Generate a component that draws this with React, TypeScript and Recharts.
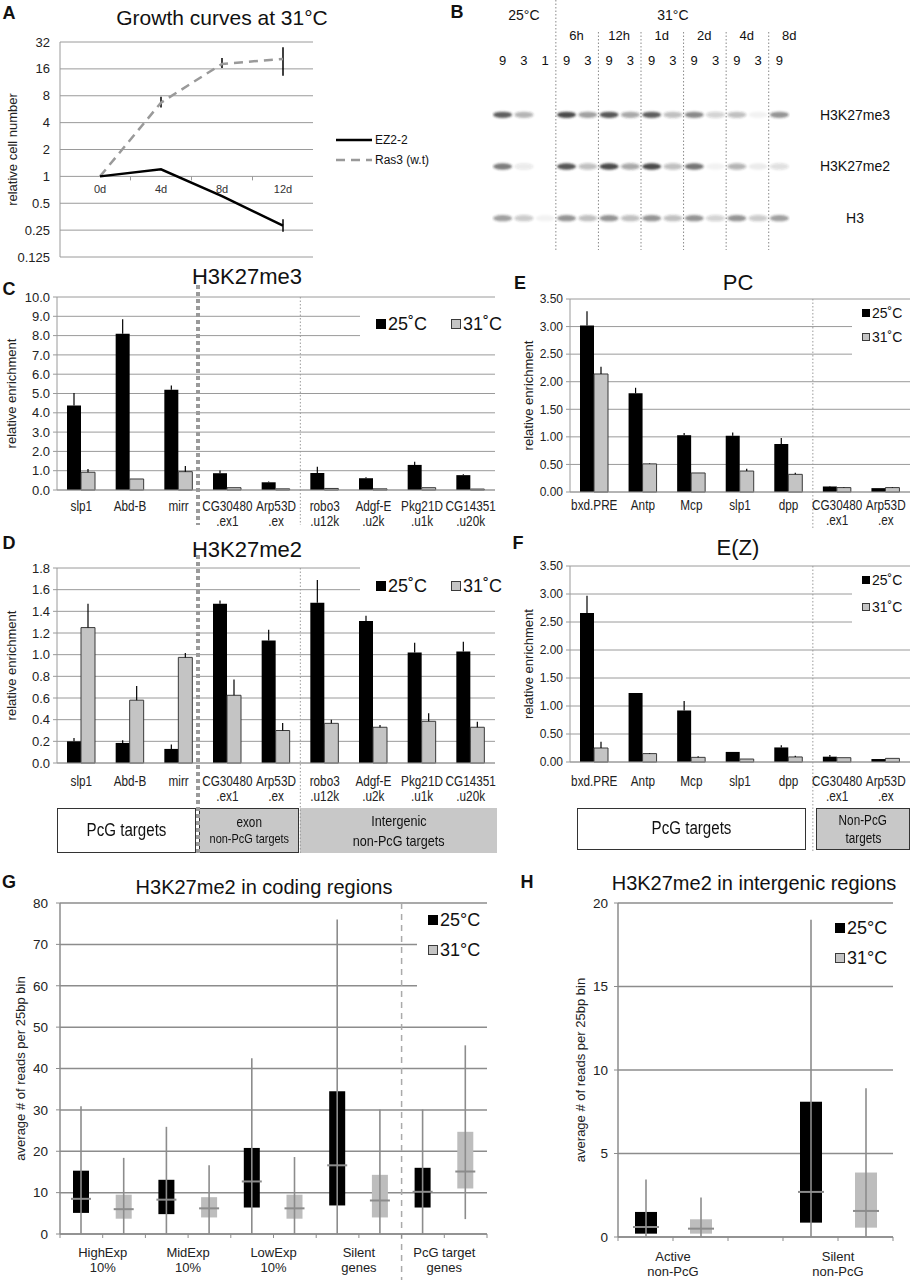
import React from "react";
import {
  LineChart,
  Line,
  BarChart,
  Bar,
  ScatterChart,
  Scatter,
  XAxis,
  YAxis,
  CartesianGrid,
  ErrorBar,
  Legend,
  ReferenceLine,
} from "recharts";

const FONT = "'Liberation Sans', Arial, sans-serif";
const GRID = "#9a9a9a";
const GREY_FILL = "#c4c4c4";
const GREY_EDGE = "#3a3a3a";
const BOX_GREY = "#bdbdbd";
const WHISK = "#8c8c8c";
const SQUEEZE = 0.84; // the figure's category labels are set in a condensed face

// ---------- A: growth curves (log2 axis)
const growthDays = ["0d", "4d", "8d", "12d"];
const ez22 = [1, 1.2, 0.6, 0.28];
const ez22Err = [[0, 0], [0, 0], [0, 0], [0.04, 0.05]];
const ras3 = [1, 6.7, 18.2, 20.7];
const ras3Err = [[0, 0], [0.8, 1.1], [1.8, 3.0], [7.3, 7.3]];
const growthTicks = [0.125, 0.25, 0.5, 1, 2, 4, 8, 16, 32];

// ---------- B: western blot
const blotLaneNums = ["9", "3", "1", "9", "3", "9", "3", "9", "3", "9", "3", "9", "3", "9"];
const blotGroupSizes = [3, 2, 2, 2, 2, 2, 1];
const blotTimes = ["6h", "12h", "1d", "2d", "4d", "8d"];
const blotTemps = ["25°C", "31°C"];
const blotRows = ["H3K27me3", "H3K27me2", "H3"];
const blotMe3 = [0.75, 0.35, 0, 0.85, 0.45, 0.8, 0.4, 0.75, 0.3, 0.55, 0.2, 0.3, 0.05, 0.5];
const blotMe2 = [0.6, 0.1, 0, 0.8, 0.3, 0.85, 0.4, 0.85, 0.3, 0.65, 0.05, 0.35, 0.08, 0.15];
const blotH3 = [0.45, 0.25, 0.05, 0.5, 0.3, 0.5, 0.3, 0.5, 0.3, 0.5, 0.2, 0.5, 0.25, 0.45];

// ---------- C / D: ChIP at PcG and non-PcG sites
const chipCats = ["slp1", "Abd-B", "mirr", "CG30480", "Arp53D", "robo3", "Adgf-E", "Pkg21D", "CG14351"];
const chipSubs = ["", "", "", ".ex1", ".ex", ".u12k", ".u2k", ".u1k", ".u20k"];
const me3At25 = [4.38, 8.1, 5.19, 0.87, 0.4, 0.88, 0.61, 1.3, 0.77];
const me3At25Err = [0.64, 0.75, 0.22, 0.14, 0.04, 0.32, 0.05, 0.16, 0.05];
const me3At31 = [0.92, 0.57, 0.95, 0.12, 0.06, 0.08, 0.06, 0.12, 0.05];
const me3At31Err = [0.17, 0, 0.3, 0, 0, 0, 0, 0, 0];
const me2At25 = [0.2, 0.185, 0.13, 1.47, 1.13, 1.48, 1.31, 1.02, 1.03];
const me2At25Err = [0.03, 0.025, 0.04, 0.03, 0.1, 0.21, 0.05, 0.09, 0.09];
const me2At31 = [1.25, 0.58, 0.975, 0.625, 0.3, 0.366, 0.33, 0.385, 0.33];
const me2At31Err = [0.22, 0.13, 0.04, 0.145, 0.07, 0.034, 0.02, 0.075, 0.05];

// ---------- E / F: PC and E(Z)
const pcgCats = ["bxd.PRE", "Antp", "Mcp", "slp1", "dpp", "CG30480", "Arp53D"];
const pcgSubs = ["", "", "", "", "", ".ex1", ".ex"];
const pcAt25 = [3.02, 1.79, 1.03, 1.02, 0.87, 0.1, 0.07];
const pcAt25Err = [0.26, 0.1, 0.04, 0.06, 0.11, 0.01, 0];
const pcAt31 = [2.14, 0.51, 0.345, 0.38, 0.32, 0.08, 0.08];
const pcAt31Err = [0.13, 0.01, 0, 0.04, 0.03, 0.01, 0.01];
const ezAt25 = [2.66, 1.23, 0.92, 0.18, 0.26, 0.095, 0.053];
const ezAt25Err = [0.31, 0, 0.17, 0, 0.04, 0.03, 0];
const ezAt31 = [0.25, 0.15, 0.083, 0.053, 0.09, 0.077, 0.065];
const ezAt31Err = [0.11, 0.01, 0.02, 0, 0.02, 0, 0];

// ---------- G: coding regions box plots
const codingGroups = ["HighExp", "MidExp", "LowExp", "Silent", "PcG target"];
const codingSubs = ["10%", "10%", "10%", "genes", "genes"];
const codingMinAt25 = [0, 0, 0, 0, 0];
const codingQ1At25 = [5.1, 4.8, 6.4, 6.9, 6.4];
const codingMedAt25 = [8.5, 8.3, 12.7, 16.6, 10.2];
const codingQ3At25 = [15.3, 13.1, 20.8, 34.5, 16.0];
const codingMaxAt25 = [30.9, 25.9, 42.5, 76, 30.1];
const codingMinAt31 = [0, 0, 0, 0, 3.6];
const codingQ1At31 = [3.7, 4.0, 3.7, 4.0, 11.0];
const codingMedAt31 = [6.0, 6.2, 6.2, 8.1, 15.1];
const codingQ3At31 = [9.5, 8.9, 9.5, 14.3, 24.7];
const codingMaxAt31 = [18.4, 16.6, 18.6, 30.1, 45.6];

// ---------- H: intergenic regions box plots
const interGroups = ["Active", "Silent"];
const interSubs = ["non-PcG", "non-PcG"];
const interMinAt25 = [0, 0];
const interQ1At25 = [0.2, 0.86];
const interMedAt25 = [0.6, 2.7];
const interQ3At25 = [1.5, 8.1];
const interMaxAt25 = [3.44, 19.0];
const interMinAt31 = [0, 0];
const interQ1At31 = [0.2, 0.56];
const interMedAt31 = [0.5, 1.56];
const interQ3At31 = [1.06, 3.86];
const interMaxAt31 = [2.36, 8.9];

// ---------- helpers
const Txt = ({ x, y, size, bold, children }: any) => (
  <div
    style={{
      position: "absolute",
      left: x,
      top: y,
      transform: "translate(-50%,-50%)",
      fontSize: size,
      fontWeight: bold ? 700 : 400,
      whiteSpace: "nowrap",
      lineHeight: 1,
    }}
  >
    {children}
  </div>
);

const Narrow = ({ size, children }: any) => (
  <span style={{ fontSize: size, display: "inline-block", transform: `scaleX(${SQUEEZE})`, whiteSpace: "nowrap" }}>
    {children}
  </span>
);

const Swatch = ({ grey, size = 9 }: any) => (
  <span
    style={{
      display: "inline-block",
      width: size,
      height: size,
      boxSizing: "border-box",
      background: grey ? GREY_FILL : "#000",
      border: `1px solid ${grey ? GREY_EDGE : "#000"}`,
      marginRight: 2,
    }}
  />
);

const tempLegend = (labels: string[], font: number, vertical: boolean, gap: number, pad: number, sw: number) => () => (
  <div
    style={{
      display: "flex",
      flexDirection: vertical ? "column" : "row",
      alignItems: vertical ? "flex-start" : "center",
      gap,
      paddingLeft: pad,
      paddingTop: vertical ? 3 : 0,
      height: "100%",
      boxSizing: "border-box",
      fontSize: font,
      fontFamily: FONT,
      lineHeight: 1,
      color: "#111",
    }}
  >
    {labels.map((l, i) => (
      <div key={l} style={{ whiteSpace: "nowrap", display: "flex", alignItems: "center" }}>
        <Swatch grey={i === 1} size={sw} />
        {l}
      </div>
    ))}
  </div>
);

const sepShape = (up: number, down: number, dx: number, stroke: string, w: number, dash: string) => (p: any) => (
  <line
    x1={p.x1 + dx}
    x2={p.x2 + dx}
    y1={Math.min(p.y1, p.y2) - up}
    y2={Math.max(p.y1, p.y2) + down}
    stroke={stroke}
    strokeWidth={w}
    strokeDasharray={dash}
  />
);

const twoLineTick = (first: string[], second: string[], font: number, gap: number) => (p: any) => {
  const i = first.indexOf(String(p.payload.value));
  return (
    <g transform={`translate(${p.x},${p.y}) scale(${SQUEEZE},1)`}>
      <text x={0} y={0} textAnchor="middle" fontSize={font} fontFamily={FONT} fill="#222">
        <tspan x={0} dy="0.8em">
          {p.payload.value}
        </tspan>
        {i >= 0 && second[i] ? (
          <tspan x={0} dy={gap}>
            {second[i]}
          </tspan>
        ) : null}
      </text>
    </g>
  );
};

const hiddenDot = () => <g />;

// ---------- A
const A_PLOT_H = 215;
const A_GAP = 61;

function GrowthPanel() {
  const data = growthDays.map((d, i) => ({ day: d, ez: ez22[i], ezErr: ez22Err[i], ras: ras3[i], rasErr: ras3Err[i] }));
  const tick = (p: any) => {
    const yOne = p.y - (A_PLOT_H * 3) / 8;
    return (
      <g>
        <text x={p.x} y={yOne + 17} textAnchor="middle" fontSize={11} fontFamily={FONT} fill="#333">
          {p.payload.value}
        </text>
        {p.index < growthDays.length - 1 ? (
          <line x1={p.x + A_GAP / 2} x2={p.x + A_GAP / 2} y1={yOne} y2={yOne + 4} stroke={GRID} />
        ) : null}
      </g>
    );
  };
  const legend = () => (
    <div style={{ fontFamily: FONT, fontSize: 12, lineHeight: "20px", color: "#111" }}>
      <div style={{ display: "flex", alignItems: "center" }}>
        <svg width={40} height={10}>
          <line x1={1} x2={37} y1={5} y2={5} stroke="#000" strokeWidth={2.5} />
        </svg>
        EZ2-2
      </div>
      <div style={{ display: "flex", alignItems: "center" }}>
        <svg width={40} height={10}>
          <line x1={1} x2={37} y1={5} y2={5} stroke="#999" strokeWidth={2.5} strokeDasharray="9 6" />
        </svg>
        Ras3 (w.t)
      </div>
    </div>
  );
  return (
    <div style={{ position: "absolute", left: 0, top: 30 }}>
      <LineChart width={440} height={240} data={data} margin={{ top: 12, right: 127, left: 0, bottom: 0 }}>
        <CartesianGrid vertical={false} stroke={GRID} />
        <XAxis
          dataKey="day"
          height={13}
          padding={{ left: 40, right: 30 }}
          axisLine={false}
          tickLine={false}
          tickSize={0}
          tickMargin={0}
          interval={0}
          tick={tick}
        />
        <YAxis
          width={60}
          scale="log"
          domain={[0.125, 32]}
          allowDataOverflow
          ticks={growthTicks}
          tickLine={false}
          tickMargin={4}
          axisLine={{ stroke: GRID }}
          tick={{ fontSize: 13, fill: "#222", fontFamily: FONT }}
          label={{
            value: "relative cell number",
            angle: -90,
            position: "insideLeft",
            offset: 12,
            style: { textAnchor: "middle", fontSize: 13, fontFamily: FONT, fill: "#222" },
          }}
        />
        <Line dataKey="ras" stroke="#9a9a9a" strokeWidth={2.5} strokeDasharray="9 6" dot={false} isAnimationActive={false}>
          <ErrorBar dataKey="rasErr" width={0} stroke="#000" strokeWidth={1.5} direction="y" />
        </Line>
        <Line dataKey="ez" stroke="#000" strokeWidth={2.5} dot={false} isAnimationActive={false}>
          <ErrorBar dataKey="ezErr" width={0} stroke="#000" strokeWidth={1.5} direction="y" />
        </Line>
        <Legend
          layout="horizontal"
          verticalAlign="middle"
          align="center"
          content={legend}
          wrapperStyle={{ left: 335, top: 100, width: 100, height: 42 }}
        />
      </LineChart>
    </div>
  );
}

// ---------- B
function BlotPanel() {
  const intens = [blotMe3, blotMe2, blotH3];
  const data = blotRows.flatMap((_, ri) => intens[ri].map((v, li) => ({ x: li + 0.5, y: ri + 0.5, v })));
  const starts = blotGroupSizes.map((_, i) => blotGroupSizes.slice(0, i).reduce((a, b) => a + b, 0));
  const seps = starts.slice(1);
  const timeTicks = seps.map((s) => s + 0.5);
  const total = blotLaneNums.length;
  const tempTicks = [blotGroupSizes[0] / 2, (blotGroupSizes[0] + total) / 2];
  const laneTicks = blotLaneNums.map((_, i) => i + 0.5);
  const timeAnchors = timeTicks.map((x) => ({ x, y: 0 }));
  const tempAnchors = tempTicks.map((x) => ({ x, y: 0 }));
  const band = (p: any) => (
    <ellipse cx={p.cx} cy={p.cy} rx={9.5} ry={3.2} fill="#2a2a2a" fillOpacity={p.payload.v} filter="url(#blotBlur)" />
  );
  const laneTick = (p: any) => (
    <text x={p.x} y={p.y} textAnchor="middle" fontSize={13} fontFamily={FONT} fill="#111">
      {blotLaneNums[Math.floor(p.payload.value)]}
    </text>
  );
  const timeTick = (p: any) => (
    <text x={p.x + 10} y={p.y} textAnchor="middle" fontSize={13} fontFamily={FONT} fill="#111">
      {blotTimes[timeTicks.indexOf(p.payload.value)]}
    </text>
  );
  const tempTick = (p: any) => (
    <text x={p.x} y={p.y} textAnchor="middle" fontSize={14} fontFamily={FONT} fill="#111">
      {blotTemps[tempTicks.indexOf(p.payload.value)]}
    </text>
  );
  const rowTick = (p: any) => (
    <text x={p.x} y={p.y} dy="0.35em" textAnchor="middle" fontSize={14} fontFamily={FONT} fill="#111">
      {blotRows[Math.floor(p.payload.value)]}
    </text>
  );
  // top axes stack outward from the plot in id order: b1 lanes, b2 times, b3 temperatures
  return (
    <div style={{ position: "absolute", left: 450, top: 0 }}>
      <ScatterChart width={461} height={260} margin={{ top: 0, right: 0, left: 42, bottom: 16 }}>
        <defs>
          <filter id="blotBlur" x="-30%" y="-80%" width="160%" height="260%">
            <feGaussianBlur stdDeviation="0.9" />
          </filter>
        </defs>
        <XAxis
          xAxisId="b1"
          orientation="top"
          type="number"
          dataKey="x"
          domain={[0, total]}
          allowDataOverflow
          ticks={laneTicks}
          height={40}
          tickSize={0}
          tickMargin={24}
          axisLine={false}
          tickLine={false}
          interval={0}
          tick={laneTick}
        />
        <XAxis
          xAxisId="b2"
          orientation="top"
          type="number"
          dataKey="x"
          domain={[0, total]}
          allowDataOverflow
          ticks={timeTicks}
          height={26}
          tickSize={0}
          tickMargin={9}
          axisLine={false}
          tickLine={false}
          interval={0}
          tick={timeTick}
        />
        <XAxis
          xAxisId="b3"
          orientation="top"
          type="number"
          dataKey="x"
          domain={[0, total]}
          allowDataOverflow
          ticks={tempTicks}
          height={23}
          tickSize={0}
          tickMargin={3}
          axisLine={false}
          tickLine={false}
          interval={0}
          tick={tempTick}
        />
        <YAxis
          yAxisId="row"
          orientation="right"
          type="number"
          dataKey="y"
          domain={[0, 3]}
          reversed
          allowDataOverflow
          ticks={[0.5, 1.5, 2.5]}
          width={121}
          tickSize={0}
          tickMargin={65}
          axisLine={false}
          tickLine={false}
          interval={0}
          tick={rowTick}
        />
        {seps.map((s, i) => (
          <ReferenceLine
            key={s}
            xAxisId="b1"
            yAxisId="row"
            x={s}
            shape={sepShape(i === 0 ? 89 : 57, 6, 0, "#8a8a8a", 1, "1.5 2")}
          />
        ))}
        <Scatter xAxisId="b1" yAxisId="row" data={data} shape={band} isAnimationActive={false} />
        <Scatter xAxisId="b2" yAxisId="row" data={timeAnchors} shape={hiddenDot} isAnimationActive={false} />
        <Scatter xAxisId="b3" yAxisId="row" data={tempAnchors} shape={hiddenDot} isAnimationActive={false} />
      </ScatterChart>
    </div>
  );
}

// ---------- C-F bar panels
type Sep = { after: string; up: number; down: number; dx: number; stroke: string; w: number; dash: string };

function BarPanel(props: any) {
  const {
    left, top, width, height, margin, yWidth, plotH, cats, subs, v25, e25, v31, e31,
    yMax, yStep, decimals, yFont, tickMargin, xFont, labelOffset, legend, seps,
  } = props;
  const data = cats.map((c: string, i: number) => ({
    name: c,
    v25: v25[i],
    e25: [0, e25[i]],
    v31: v31[i],
    e31: [0, e31[i]],
  }));
  const ticks: number[] = [];
  for (let k = 0; k * yStep <= yMax + 1e-9; k++) ticks.push(+(k * yStep).toFixed(3));
  const xHeight = height - margin.top - margin.bottom - plotH;
  return (
    <div style={{ position: "absolute", left, top }}>
      <BarChart width={width} height={height} data={data} margin={margin} barGap={0} barSize={14}>
        <CartesianGrid vertical={false} stroke={GRID} />
        <XAxis
          dataKey="name"
          height={xHeight}
          interval={0}
          tickLine={false}
          tickSize={0}
          tickMargin={tickMargin}
          axisLine={{ stroke: GRID }}
          tick={twoLineTick(cats, subs, xFont, 15)}
        />
        <YAxis
          width={yWidth}
          domain={[0, yMax]}
          ticks={ticks}
          interval={0}
          tickFormatter={(v: number) => v.toFixed(decimals)}
          tick={{ fontSize: yFont, fill: "#222", fontFamily: FONT }}
          tickSize={4}
          tickMargin={3}
          axisLine={{ stroke: GRID }}
          tickLine={{ stroke: GRID }}
          label={{
            value: "relative enrichment",
            angle: -90,
            position: "insideLeft",
            offset: labelOffset,
            style: { textAnchor: "middle", fontSize: 13, fontFamily: FONT, fill: "#222" },
          }}
        />
        {seps.map((s: Sep) => (
          <ReferenceLine
            key={s.after}
            x={s.after}
            position="end"
            shape={sepShape(s.up, s.down, s.dx, s.stroke, s.w, s.dash)}
          />
        ))}
        <Bar dataKey="v25" fill="#000" isAnimationActive={false}>
          <ErrorBar dataKey="e25" width={0} stroke="#000" strokeWidth={1.2} direction="y" />
        </Bar>
        <Bar dataKey="v31" fill={GREY_FILL} stroke={GREY_EDGE} strokeWidth={1} isAnimationActive={false}>
          <ErrorBar dataKey="e31" width={0} stroke="#000" strokeWidth={1.2} direction="y" />
        </Bar>
        <Legend
          layout="horizontal"
          verticalAlign="middle"
          align="center"
          content={tempLegend(["25˚C", "31˚C"], legend.font, legend.vertical, legend.gap, legend.pad, legend.sw)}
          wrapperStyle={{
            left: legend.left,
            top: legend.top,
            width: legend.width,
            height: legend.height,
            background: "#fff",
          }}
        />
      </BarChart>
    </div>
  );
}

// ---------- G/H box plot panels
const BoxShape = (p: any) => {
  const { x, y, width, height, payload } = p;
  const [q1, q3] = payload.box;
  const topY = Math.min(y, y + height);
  const h = Math.abs(height);
  const ppu = h / (q3 - q1);
  const cx = x + width / 2;
  const yHi = topY - (payload.hi - q3) * ppu;
  const yLo = topY + h + (q1 - payload.lo) * ppu;
  const yMed = topY + (q3 - payload.med) * ppu;
  return (
    <g>
      <rect x={x} y={topY} width={width} height={h} fill={payload.temp === 25 ? "#000" : BOX_GREY} />
      <line x1={cx} x2={cx} y1={yHi} y2={yLo} stroke={WHISK} strokeWidth={1.6} />
      <line x1={x - 2} x2={x + width + 2} y1={yMed} y2={yMed} stroke={WHISK} strokeWidth={2} />
    </g>
  );
};

function BoxPanel(props: any) {
  const {
    left, top, width, height, margin, yWidth, plotH, groups, subs, stride, slots,
    a25, a31, yMax, yStep, boxW, tickMargin, yTickMargin, legend, sepAt, labelOffset,
  } = props;
  const data = groups.flatMap((g: string, i: number) => [
    { slot: i * stride + 0.5, temp: 25, lo: a25[0][i], box: [a25[1][i], a25[3][i]], med: a25[2][i], hi: a25[4][i] },
    { slot: i * stride + 1.5, temp: 31, lo: a31[0][i], box: [a31[1][i], a31[3][i]], med: a31[2][i], hi: a31[4][i] },
  ]);
  const xTicks = Array.from({ length: slots + 1 }, (_, i) => i);
  const yTicks: number[] = [];
  for (let v = 0; v <= yMax; v += yStep) yTicks.push(v);
  const xHeight = height - margin.top - margin.bottom - plotH;
  const tick = (p: any) => {
    const gi = groups.findIndex((_: string, i: number) => i * stride + 1 === p.payload.value);
    if (gi < 0) return <g />;
    return (
      <text x={p.x} y={p.y} textAnchor="middle" fontSize={13} fontFamily={FONT} fill="#222">
        <tspan x={p.x} dy="0.8em">
          {groups[gi]}
        </tspan>
        <tspan x={p.x} dy={15}>
          {subs[gi]}
        </tspan>
      </text>
    );
  };
  return (
    <div style={{ position: "absolute", left, top }}>
      <BarChart width={width} height={height} data={data} margin={margin}>
        <CartesianGrid vertical={false} stroke={WHISK} strokeWidth={1.5} />
        <XAxis
          type="number"
          dataKey="slot"
          domain={[0, slots]}
          allowDataOverflow
          ticks={xTicks}
          interval={0}
          height={xHeight}
          tickSize={4}
          tickMargin={tickMargin}
          axisLine={{ stroke: WHISK, strokeWidth: 1.5 }}
          tickLine={{ stroke: WHISK }}
          tick={tick}
        />
        <YAxis
          width={yWidth}
          domain={[0, yMax]}
          ticks={yTicks}
          interval={0}
          tickSize={4}
          tickMargin={yTickMargin}
          axisLine={{ stroke: WHISK, strokeWidth: 1.5 }}
          tickLine={{ stroke: WHISK }}
          tick={{ fontSize: 13.5, fill: "#222", fontFamily: FONT }}
          label={{
            value: "average # of reads per 25bp bin",
            angle: -90,
            position: "insideLeft",
            offset: labelOffset,
            style: { textAnchor: "middle", fontSize: 13, fontFamily: FONT, fill: "#222" },
          }}
        />
        {sepAt !== undefined ? (
          <ReferenceLine x={sepAt} shape={sepShape(0, 46, 0, "#aaaaaa", 1.5, "6 5")} />
        ) : null}
        <Bar dataKey="box" barSize={boxW} shape={BoxShape} isAnimationActive={false} />
        <Legend
          layout="horizontal"
          verticalAlign="middle"
          align="center"
          content={tempLegend(["25°C", "31°C"], 18, true, 12, legend.pad, 10)}
          wrapperStyle={{
            left: legend.left,
            top: legend.top,
            width: legend.width,
            height: legend.height,
            background: legend.bg ? "#fff" : "transparent",
          }}
        />
      </BarChart>
    </div>
  );
}

const boxStyle = (left: number, top: number, width: number, height: number, grey: boolean, border: boolean) => ({
  position: "absolute" as const,
  left,
  top,
  width,
  height,
  boxSizing: "border-box" as const,
  background: grey ? "#c8c8c8" : "#fff",
  border: border ? "1.5px solid #333" : "none",
  display: "flex",
  flexDirection: "column" as const,
  alignItems: "center",
  justifyContent: "center",
  lineHeight: 1.3,
  textAlign: "center" as const,
  color: "#111",
});

export default function App() {
  const thick = { stroke: "#9a9a9a", w: 4, dash: "4 3" };
  const thin = { stroke: "#9a9a9a", w: 1, dash: "1.5 2" };
  return (
    <div
      style={{
        position: "absolute",
        left: 0,
        top: 0,
        width: 911,
        height: 1280,
        background: "#fff",
        fontFamily: FONT,
        color: "#111",
        overflow: "hidden",
      }}
    >
      {/* target group boxes under D and F */}
      <div style={boxStyle(57, 808, 139, 45, false, true)}>
        <Narrow size={18}>PcG targets</Narrow>
      </div>
      <div style={boxStyle(199, 808, 100, 45, true, true)}>
        <Narrow size={14}>exon</Narrow>
        <Narrow size={13}>non-PcG targets</Narrow>
      </div>
      <div style={boxStyle(300, 808, 197, 45, true, false)}>
        <Narrow size={15}>Intergenic</Narrow>
        <Narrow size={15}>non-PcG targets</Narrow>
      </div>
      <div style={boxStyle(577, 808, 229, 42, false, true)}>
        <Narrow size={18}>PcG targets</Narrow>
      </div>
      <div style={boxStyle(816, 808, 94, 42, true, true)}>
        <Narrow size={14}>Non-PcG</Narrow>
        <Narrow size={14}>targets</Narrow>
      </div>

      <GrowthPanel />
      <BlotPanel />

      <BarPanel
        left={0}
        top={280}
        width={500}
        height={250}
        margin={{ top: 17, right: 5, left: 0, bottom: 0 }}
        yWidth={57}
        plotH={193}
        cats={chipCats}
        subs={chipSubs}
        v25={me3At25}
        e25={me3At25Err}
        v31={me3At31}
        e31={me3At31Err}
        yMax={10}
        yStep={1}
        decimals={1}
        yFont={13}
        tickMargin={10}
        xFont={14}
        labelOffset={11}
        legend={{ left: 360, top: 23, width: 135, height: 42, font: 18, vertical: false, gap: 24, pad: 16, sw: 10 }}
        seps={[
          { after: "mirr", up: 12, down: 35, dx: -5, ...thick },
          { after: "Arp53D", up: 0, down: 35, dx: 0, ...thin },
        ]}
      />
      <BarPanel
        left={0}
        top={550}
        width={500}
        height={305}
        margin={{ top: 18, right: 5, left: 0, bottom: 0 }}
        yWidth={57}
        plotH={195}
        cats={chipCats}
        subs={chipSubs}
        v25={me2At25}
        e25={me2At25Err}
        v31={me2At31}
        e31={me2At31Err}
        yMax={1.8}
        yStep={0.2}
        decimals={1}
        yFont={13}
        tickMargin={12}
        xFont={14}
        labelOffset={11}
        legend={{ left: 360, top: 15, width: 135, height: 42, font: 18, vertical: false, gap: 24, pad: 16, sw: 10 }}
        seps={[
          { after: "mirr", up: 13, down: 90, dx: -5, ...thick },
          { after: "Arp53D", up: 0, down: 90, dx: 0, ...thin },
        ]}
      />
      <BarPanel
        left={500}
        top={285}
        width={411}
        height={250}
        margin={{ top: 14, right: 1, left: 0, bottom: 0 }}
        yWidth={70}
        plotH={193}
        cats={pcgCats}
        subs={pcgSubs}
        v25={pcAt25}
        e25={pcAt25Err}
        v31={pcAt31}
        e31={pcAt31Err}
        yMax={3.5}
        yStep={0.5}
        decimals={2}
        yFont={12}
        tickMargin={7}
        xFont={14}
        labelOffset={28}
        legend={{ left: 352, top: 18, width: 58, height: 57, font: 14, vertical: true, gap: 10, pad: 10, sw: 8 }}
        seps={[{ after: "dpp", up: 0, down: 38, dx: 0, ...thin }]}
      />
      <BarPanel
        left={500}
        top={550}
        width={411}
        height={305}
        margin={{ top: 16, right: 1, left: 0, bottom: 0 }}
        yWidth={70}
        plotH={196}
        cats={pcgCats}
        subs={pcgSubs}
        v25={ezAt25}
        e25={ezAt25Err}
        v31={ezAt31}
        e31={ezAt31Err}
        yMax={3.5}
        yStep={0.5}
        decimals={2}
        yFont={12}
        tickMargin={13}
        xFont={14}
        labelOffset={28}
        legend={{ left: 352, top: 20, width: 58, height: 60, font: 14, vertical: true, gap: 13, pad: 10, sw: 8 }}
        seps={[{ after: "dpp", up: 0, down: 91, dx: 0, ...thin }]}
      />

      <BoxPanel
        left={0}
        top={890}
        width={490}
        height={390}
        margin={{ top: 13, right: 3, left: 0, bottom: 0 }}
        yWidth={60}
        plotH={331}
        groups={codingGroups}
        subs={codingSubs}
        stride={2}
        slots={10}
        a25={[codingMinAt25, codingQ1At25, codingMedAt25, codingQ3At25, codingMaxAt25]}
        a31={[codingMinAt31, codingQ1At31, codingMedAt31, codingQ3At31, codingMaxAt31]}
        yMax={80}
        yStep={10}
        boxW={16}
        tickMargin={9}
        yTickMargin={8}
        labelOffset={20}
        sepAt={8}
        legend={{ left: 417, top: 18, width: 70, height: 84, pad: 11, bg: true }}
      />
      <BoxPanel
        left={560}
        top={890}
        width={351}
        height={390}
        margin={{ top: 13, right: 18, left: 0, bottom: 0 }}
        yWidth={58}
        plotH={334}
        groups={interGroups}
        subs={interSubs}
        stride={3}
        slots={5}
        a25={[interMinAt25, interQ1At25, interMedAt25, interQ3At25, interMaxAt25]}
        a31={[interMinAt31, interQ1At31, interMedAt31, interQ3At31, interMaxAt31]}
        yMax={20}
        yStep={5}
        boxW={22}
        tickMargin={10}
        yTickMargin={6}
        labelOffset={20}
        legend={{ left: 275, top: 26, width: 70, height: 70, pad: 0, bg: false }}
      />

      {/* panel letters and titles */}
      <Txt x={9} y={13} size={18} bold>A</Txt>
      <Txt x={222} y={17} size={21}>Growth curves at 31°C</Txt>
      <Txt x={457} y={12} size={18} bold>B</Txt>
      <Txt x={9} y={289} size={18} bold>C</Txt>
      <Txt x={247} y={277} size={22}>H3K27me3</Txt>
      <Txt x={520} y={283} size={18} bold>E</Txt>
      <Txt x={738} y={283} size={22}>PC</Txt>
      <Txt x={9} y={543} size={18} bold>D</Txt>
      <Txt x={247} y={550} size={22}>H3K27me2</Txt>
      <Txt x={518} y={543} size={18} bold>F</Txt>
      <Txt x={738} y={548} size={22}>E(Z)</Txt>
      <Txt x={9} y={882} size={18} bold>G</Txt>
      <Txt x={264} y={887} size={20}>H3K27me2 in coding regions</Txt>
      <Txt x={527} y={882} size={18} bold>H</Txt>
      <Txt x={754} y={883} size={20}>H3K27me2 in intergenic regions</Txt>
    </div>
  );
}
